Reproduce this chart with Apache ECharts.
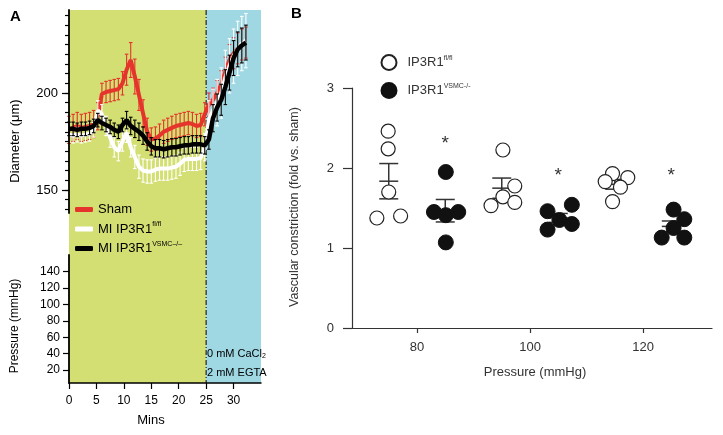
<!DOCTYPE html>
<html><head><meta charset="utf-8">
<script src="https://cdn.jsdelivr.net/npm/echarts@6/dist/echarts.min.js"></script>
<style>html,body{margin:0;padding:0;background:#fff}#c{width:723px;height:435px}</style>
</head><body><div id="c"></div>
<script>
const FONT = '"Liberation Sans", Arial, Helvetica, sans-serif';

// ---------- Panel A data ----------
const timesMin = [0,0.75,1.5,2.25,3,3.75,4.5,5.25,6,6.75,7.5,8.25,9,9.75,10.5,11.25,12,12.75,13.5,14.25,15,15.75,16.5,17.25,18,18.75,19.5,20.25,21,21.75,22.5,23.25,24,24.75,25.5,26.25,27,27.75,28.5,29.25,30,30.75,31.5,32.25];
const shamMean = [181,182,183,182,182.5,183,184,188,199.5,200.5,201,201.5,202,205,212,217,208.5,199,189.5,180,176,176.5,178,180,181,182,183,183.5,184,184.5,184,183,183.5,189,194,196.5,200,204.5,211,217,220.5,223,225,226];
const shamErr  = [7,7,7,7,7,7,7,7,5.5,5.5,5.5,5.5,5.5,6,8,9,9,8,7,7,6,6,6,6,6,6,6,6,6,6,6,6,6,6,6,6,6.5,7,7.5,8,8,8,8,8];
const flflMean = [178.5,178,178.5,178,178.5,179,181,191,189,183,177,172,170,175,179.5,172,167,162,160,159.5,159.5,160.5,161,161,161,161.5,162,163.5,165.5,166,166,166,166.5,172,186,191,195,200,208,214,219,223,225.5,227];
const flflErr  = [3.8,3.8,3.8,3.8,3.8,3.8,3.8,5,5,5,5,5,5,5,5,5,6,6,6,6,6,6,6,6,6,6,6,6,6,6,6,6,6,7,10,11,12,13,14,14,14,14,14,14];
const vsmcMean = [181.5,181.5,181,181.5,181.5,182,183,186,184.5,183.5,182.5,181,180,183.5,186,183,181.5,180,178,175,172.5,171.5,171.5,171,171.5,172,172,172.5,173,173,173.5,173.5,173.5,173,176,187,192.5,196.5,203,210.5,218,222.5,224.5,226];
const vsmcErr  = [3.5,3.5,3.5,3.5,3.5,3.5,3.5,3.5,3.5,3.5,3.5,3.5,3.5,3.5,4.5,4.5,4.5,4.5,4.5,4.5,4.5,4.5,4.5,4.5,4.5,4.5,4.5,4.5,4.5,4.5,4.5,4.5,4.5,4.5,5,7,7,8,9,9,9,9,9,9];
const minsTicks = [0,5,10,15,20,25,30];
const diameterMinorTicks = [140,145,150,155,160,165,170,175,180,185,190,195,200,205,210,215,220,225,230,235,240];
const diameterLabels = [150,200];
const pressureTicksA = [20,40,60,80,100,120,140];
const phases = [[0,25],[25,35]];
const switchTime = 25;
const legendNamesA = ['Sham','MI IP3R1fl/fl','MI IP3R1VSMC–/–'];

// ---------- Panel B data ----------
const pressureTicksB = [80,100,120];
const flflGroupX = [75,95,115];
const flflPoints = [
  [[74.9,2.46],[74.9,2.24],[75.0,1.70],[72.9,1.375],[77.1,1.40]],
  [[95.2,2.225],[97.3,1.775],[95.2,1.64],[93.1,1.53],[97.3,1.57]],
  [[114.6,1.93],[113.3,1.83],[117.3,1.88],[116.0,1.76],[114.6,1.58]]
];
const vsmcGroupX = [85,105,125];
const vsmcPoints = [
  [[85.1,1.95],[83.0,1.45],[85.1,1.41],[87.3,1.45],[85.1,1.07]],
  [[103.1,1.46],[107.4,1.54],[105.2,1.35],[103.1,1.23],[107.4,1.30]],
  [[125.4,1.48],[127.3,1.36],[125.4,1.25],[123.3,1.13],[127.3,1.13]]
];
const starX = [85,105,125];
const starY = [2.35,1.95,1.95];
const legendNamesB = ['IP3R1fl/fl','IP3R1VSMC-/-'];

// ---------- helpers ----------
function meanSem(pts){
  const v = pts.map(p=>p[1]); const n=v.length;
  const m = v.reduce((a,b)=>a+b,0)/n;
  const sd = Math.sqrt(v.reduce((a,b)=>a+(b-m)*(b-m),0)/(n-1));
  return [m, sd/Math.sqrt(n)];
}
function errRender(color){
  return function(params, api){
    const x=api.value(0), m=api.value(1), e=api.value(2);
    const p1=api.coord([x,m+e]), p2=api.coord([x,m-e]);
    const w=1.8, st={stroke:color,lineWidth:1.1};
    return {type:'group',children:[
      {type:'line',shape:{x1:p1[0],y1:p1[1],x2:p2[0],y2:p2[1]},style:st},
      {type:'line',shape:{x1:p1[0]-w,y1:p1[1],x2:p1[0]+w,y2:p1[1]},style:st},
      {type:'line',shape:{x1:p2[0]-w,y1:p2[1],x2:p2[0]+w,y2:p2[1]},style:st}
    ]};
  };
}
function pairs(t, m){ return t.map((x,i)=>[x,m[i]]); }
function triples(t, m, e){ return t.map((x,i)=>[x,m[i],e[i]]); }

const RED='#e4342b', WHITE='#ffffff', BLACK='#000000';
const bgColors=['#d3df72','#9fd8e3'];

const flflStats = flflPoints.map((g,i)=>[flflGroupX[i]].concat(meanSem(g)));
const vsmcStats = vsmcPoints.map((g,i)=>[vsmcGroupX[i]].concat(meanSem(g)));

function meanBarRender(params, api){
  const x=api.value(0), m=api.value(1), s=api.value(2);
  const pm=api.coord([x,m]), pu=api.coord([x,m+s]), pl=api.coord([x,m-s]);
  const w=9.5, st={stroke:'#333',lineWidth:1.5};
  return {type:'group',children:[
    {type:'line',shape:{x1:pu[0],y1:pu[1],x2:pl[0],y2:pl[1]},style:st},
    {type:'line',shape:{x1:pm[0]-w,y1:pm[1],x2:pm[0]+w,y2:pm[1]},style:st},
    {type:'line',shape:{x1:pu[0]-w,y1:pu[1],x2:pu[0]+w,y2:pu[1]},style:st},
    {type:'line',shape:{x1:pl[0]-w,y1:pl[1],x2:pl[0]+w,y2:pl[1]},style:st}
  ]};
}

const richA = {
  b:{fontSize:13,fontFamily:FONT,color:'#000',lineHeight:16},
  s:{fontSize:7,fontFamily:FONT,color:'#000',lineHeight:11,verticalAlign:'top'}
};
const richB = {
  b:{fontSize:13,fontFamily:FONT,color:'#333',lineHeight:16,padding:[0,0,0,6]},
  s:{fontSize:7,fontFamily:FONT,color:'#333',lineHeight:11,verticalAlign:'top'}
};
function txt(x,y,text,size,color,extra){
  return Object.assign({type:'text',x:x,y:y,z:100,zlevel:0,
    style:{text:text,fontSize:size,fontFamily:FONT,fill:color,align:'center',verticalAlign:'middle',textAlign:'center',textVerticalAlign:'middle'}},extra||{});
}

const chart = echarts.init(document.getElementById('c'));
const g = [
  txt(15.5,16.5,'A',15,'#000'),
  txt(296.5,14,'B',15,'#000'),
  txt(15,141,'Diameter (μm)',13,'#000',{rotation:Math.PI/2}),
  txt(15,326,'Pressure (mmHg)',12,'#000',{rotation:Math.PI/2}),
  txt(151,420,'Mins',13,'#000'),
  txt(207,354,'0 mM CaCl{sub|2}',11,'#000'),
  txt(207,373,'2 mM EGTA',11,'#000'),
  txt(295,207,'Vascular constriction (fold vs. sham)',12.5,'#333',{rotation:Math.PI/2}),
  txt(535,372,'Pressure (mmHg)',13,'#333')
];
g[0].style.fontWeight='bold'; g[1].style.fontWeight='bold';
[5,6].forEach(i=>{ g[i].style.align='left'; g[i].style.textAlign='left'; });
g[5].style.rich={sub:{fontSize:7,fontFamily:FONT,fill:'#000',color:'#000',lineHeight:6,verticalAlign:'bottom'}};

chart.setOption({
  animation:false,
  textStyle:{fontFamily:FONT},
  grid:[
    {left:69,top:10,width:192,height:373},
    {left:69,top:10,width:192,height:203},
    {left:69,top:255,width:192,height:128},
    {left:352,top:88,width:360,height:240}
  ],
  xAxis:[
    {gridIndex:0,type:'value',min:0,max:35,z:10,
     axisLine:{show:true,onZero:false,lineStyle:{color:'#000',width:1.5}},
     axisTick:{show:true,customValues:minsTicks,length:6,lineStyle:{color:'#000',width:1.2}},
     axisLabel:{customValues:minsTicks,fontSize:12,color:'#000',fontFamily:FONT,margin:12},
     splitLine:{show:false}},
    {gridIndex:1,type:'value',min:0,max:35,show:false},
    {gridIndex:2,type:'value',min:0,max:35,show:false},
    {gridIndex:3,type:'value',min:68.5,max:132.2,
     axisLine:{show:true,onZero:false,lineStyle:{color:'#333',width:1.2}},
     axisTick:{show:true,customValues:pressureTicksB,length:5,lineStyle:{color:'#333',width:1.2}},
     axisLabel:{customValues:pressureTicksB,fontSize:13,color:'#333',fontFamily:FONT,margin:13},
     splitLine:{show:false}}
  ],
  yAxis:[
    {gridIndex:0,type:'value',min:0,max:1,show:false},
    {gridIndex:1,type:'value',position:'left',min:138.1,max:242.8,z:10,
     axisLine:{show:true,onZero:false,lineStyle:{color:'#000',width:1.8}},
     axisTick:{show:true,customValues:diameterMinorTicks,length:4,lineStyle:{color:'#000',width:1.2}},
     axisLabel:{show:false},splitLine:{show:false}},
    {gridIndex:1,type:'value',position:'left',min:138.1,max:242.8,z:10,
     axisLine:{show:false},
     axisTick:{show:true,customValues:diameterLabels,length:7,lineStyle:{color:'#000',width:1.2}},
     axisLabel:{customValues:diameterLabels,fontSize:13,color:'#000',fontFamily:FONT,margin:11},
     splitLine:{show:false}},
    {gridIndex:2,type:'value',position:'left',min:4.1,max:160.4,z:10,
     axisLine:{show:true,onZero:false,lineStyle:{color:'#000',width:1.8}},
     axisTick:{show:true,customValues:pressureTicksA,length:6,lineStyle:{color:'#000',width:1.2}},
     axisLabel:{customValues:pressureTicksA,fontSize:12,color:'#000',fontFamily:FONT,margin:9},
     splitLine:{show:false}},
    {gridIndex:3,type:'value',min:0,max:3,interval:1,
     axisLine:{show:true,onZero:false,lineStyle:{color:'#333',width:1.2}},
     axisTick:{show:true,length:9,lineStyle:{color:'#333',width:1.2}},
     axisLabel:{fontSize:13,color:'#333',fontFamily:FONT,margin:18},
     splitLine:{show:false}}
  ],
  legend:[
    {data:legendNamesA,orient:'vertical',left:75,top:203,padding:0,icon:'roundRect',itemWidth:18,itemHeight:5,itemGap:5,selectedMode:false,
     formatter:function(n){ if(n==='Sham') return '{b|Sham}'; if(n.indexOf('fl/fl')>=0) return '{b|MI IP3R1}{s|fl/fl}'; return '{b|MI IP3R1}{s|VSMC–/–}'; },
     textStyle:{rich:richA}},
    {data:legendNamesB,orient:'vertical',left:380.5,top:54,padding:0,icon:'circle',itemWidth:15,itemHeight:15,itemGap:11,selectedMode:false,
     formatter:function(n){ return n.indexOf('fl/fl')>=0 ? '{b|IP3R1}{s|fl/fl}' : '{b|IP3R1}{s|VSMC-/-}'; },
     textStyle:{rich:richB}}
  ],
  series:[
    {type:'custom',name:'bg',xAxisIndex:0,yAxisIndex:0,z:0,silent:true,clip:false,
     data:phases.map((p,i)=>[p[0],p[1],i]),
     renderItem:function(params,api){
       const a=api.coord([api.value(0),1]), b=api.coord([api.value(1),0]);
       return {type:'rect',shape:{x:a[0],y:a[1],width:b[0]-a[0],height:b[1]-a[1]},style:{fill:bgColors[api.value(2)]}};
     }},
    {type:'custom',name:'switch',xAxisIndex:0,yAxisIndex:0,z:1,silent:true,clip:false,
     data:[[switchTime]],
     renderItem:function(params,api){
       const a=api.coord([api.value(0),1]), b=api.coord([api.value(0),0]);
       return {type:'line',shape:{x1:a[0],y1:a[1],x2:b[0],y2:b[1]},style:{stroke:'#222',lineWidth:1.2,lineDash:[5,2,1,2]}};
     }},
    {type:'line',xAxisIndex:2,yAxisIndex:3,data:[],silent:true},
    {type:'custom',name:'shamErr',xAxisIndex:1,yAxisIndex:1,z:3,silent:true,clip:false,data:triples(timesMin,shamMean,shamErr),renderItem:errRender(RED)},
    {type:'line',name:legendNamesA[0],xAxisIndex:1,yAxisIndex:1,z:4,data:pairs(timesMin,shamMean),symbol:'none',showSymbol:false,lineStyle:{width:4,color:RED},itemStyle:{color:RED}},
    {type:'custom',name:'flflErr',xAxisIndex:1,yAxisIndex:1,z:5,silent:true,clip:false,data:triples(timesMin,flflMean,flflErr),renderItem:errRender(WHITE)},
    {type:'line',name:legendNamesA[1],xAxisIndex:1,yAxisIndex:1,z:6,data:pairs(timesMin,flflMean),symbol:'none',showSymbol:false,lineStyle:{width:4,color:WHITE},itemStyle:{color:WHITE}},
    {type:'custom',name:'vsmcErr',xAxisIndex:1,yAxisIndex:1,z:7,silent:true,clip:false,data:triples(timesMin,vsmcMean,vsmcErr),renderItem:errRender(BLACK)},
    {type:'line',name:legendNamesA[2],xAxisIndex:1,yAxisIndex:1,z:8,data:pairs(timesMin,vsmcMean),symbol:'none',showSymbol:false,lineStyle:{width:4.5,color:BLACK},itemStyle:{color:BLACK}},
    // Panel B
    {type:'custom',name:'meansB',xAxisIndex:3,yAxisIndex:4,z:3,silent:true,clip:false,data:flflStats.concat(vsmcStats),renderItem:meanBarRender},
    {type:'scatter',name:legendNamesB[0],xAxisIndex:3,yAxisIndex:4,z:5,data:flflPoints.flat(),symbol:'circle',symbolSize:14,
     itemStyle:{color:'#fff',borderColor:'#222',borderWidth:1.2,opacity:1}},
    {type:'scatter',name:legendNamesB[1],xAxisIndex:3,yAxisIndex:4,z:5,data:vsmcPoints.flat(),symbol:'circle',symbolSize:15,
     itemStyle:{color:'#111',borderColor:'#111',borderWidth:1,opacity:1}},
    {type:'custom',name:'stars',xAxisIndex:3,yAxisIndex:4,z:6,silent:true,clip:false,
     data:starX.map((x,i)=>[x,starY[i]]),
     renderItem:function(params,api){
       const p=api.coord([api.value(0),api.value(1)]);
       return {type:'text',x:p[0],y:p[1]+4,style:{text:'*',fontSize:19,fontFamily:FONT,fill:'#333',align:'center',verticalAlign:'middle',textAlign:'center',textVerticalAlign:'middle'}};
     }}
  ],
  graphic:{elements:g}
});
</script></body></html>
